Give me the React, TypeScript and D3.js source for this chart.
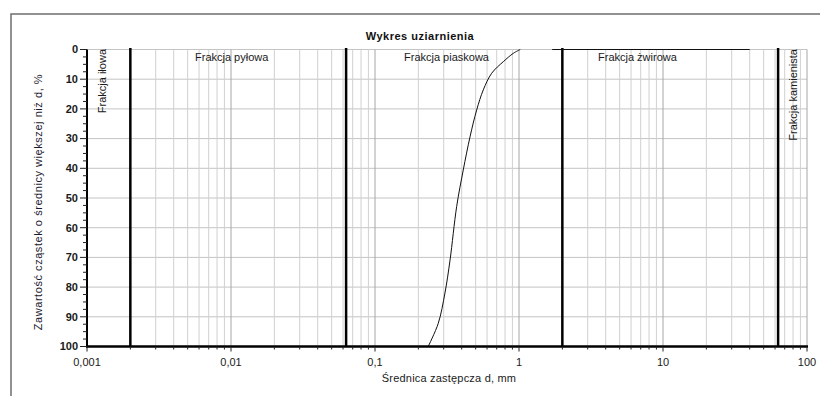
import React from "react";
import * as d3 from "d3";

// ---- data ----
const xTickValues = [0.001, 0.01, 0.1, 1, 10, 100];
const xTickLabels = ["0,001", "0,01", "0,1", "1", "10", "100"];
const yTickValues = [0, 10, 20, 30, 40, 50, 60, 70, 80, 90, 100];
const fractionBounds = [0.002, 0.063, 2, 63];
const curveDiameters = [0.234, 0.275, 0.306, 0.332, 0.369, 0.41, 0.457, 0.508, 0.565, 0.646, 0.778, 0.912, 1.02];
const curvePercents = [100, 92.2, 82, 70.9, 52.9, 40.6, 29.4, 20.4, 13.6, 8.0, 4.1, 1.3, 0];
const gravelDiameters = [1.7, 40];
const gravelPercents = [0, 0];

const W = 820;
const H = 396;
const FONT = "'Liberation Sans', Arial, sans-serif";

export default function App() {
  const x = d3.scaleLog().domain([0.001, 100]).range([87, 807]);
  const y = d3.scaleLinear().domain([0, 100]).range([49.5, 346.5]);
  const [y0, y1] = y.range();
  const [x0, x1] = x.range();

  const gridVals: number[] = [];
  for (let e = -3; e < 2; e++) {
    for (let m = 1; m <= 9; m++) gridVals.push(m * Math.pow(10, e));
  }
  gridVals.push(100);

  const yMinor: number[] = d3.range(0, 100.01, 2.5);

  const line = d3
    .line<number>()
    .x((d) => x(curveDiameters[d]))
    .y((d) => y(curvePercents[d]))
    .curve(d3.curveCatmullRom.alpha(0.5));
  const curvePath = line(curveDiameters.map((_, i) => i)) || "";

  const gravelPath =
    d3
      .line<number>()
      .x((d) => x(gravelDiameters[d]))
      .y((d) => y(gravelPercents[d]))(gravelDiameters.map((_, i) => i)) || "";

  const isMajor = (v: number) => Math.abs(Math.log10(v) - Math.round(Math.log10(v))) < 1e-9;

  return (
    <svg
      width={W}
      height={H}
      style={{ position: "absolute", left: 0, top: 0, background: "#fff" }}
      fontFamily={FONT}
    >
      <rect x={0} y={0} width={W} height={H} fill="#fff" />
      <path d={`M11,${H + 2} L11,14 L${W + 2},14`} fill="none" stroke="#6e6e6e" strokeWidth={1.5} />

      <text x={420} y={40} textAnchor="middle" fontSize={11} fontWeight="bold" fill="#111" letterSpacing={0.5}>
        Wykres uziarnienia
      </text>

      {yTickValues.map((v) => (
        <line key={"hg" + v} x1={x0} x2={x1} y1={y(v)} y2={y(v)} stroke="#c4c4c4" strokeWidth={1} />
      ))}
      {gridVals.map((v, i) => (
        <line
          key={"vg" + i}
          x1={x(v)}
          x2={x(v)}
          y1={y0}
          y2={y1}
          stroke={isMajor(v) ? "#a6a6a6" : "#d0d0d0"}
          strokeWidth={1}
        />
      ))}

      {fractionBounds.map((v) => (
        <line key={"fb" + v} x1={x(v)} x2={x(v)} y1={y0 - 1.5} y2={y1} stroke="#000" strokeWidth={2.5} />
      ))}

      <path d={curvePath} fill="none" stroke="#111" strokeWidth={1} />
      <path d={gravelPath} fill="none" stroke="#111" strokeWidth={1} />

      <line x1={x0} x2={x0} y1={y0} y2={y1 + 1} stroke="#000" strokeWidth={2} />
      <line x1={x0 - 1} x2={x1 + 1} y1={y1} y2={y1} stroke="#000" strokeWidth={2.5} />

      {yMinor.map((v) => {
        const major = Math.abs(v % 10) < 1e-9;
        return (
          <line
            key={"yt" + v}
            x1={major ? x0 - 7 : x0 - 4}
            x2={x0}
            y1={y(v)}
            y2={y(v)}
            stroke="#222"
            strokeWidth={1}
          />
        );
      })}
      {yTickValues.map((v) => (
        <text
          key={"yl" + v}
          x={78}
          y={y(v)}
          dy="0.35em"
          textAnchor="end"
          fontSize={11}
          fontWeight="bold"
          fill="#1a1a1a"
        >
          {v}
        </text>
      ))}

      {gridVals.map((v, i) => (
        <line
          key={"xt" + i}
          x1={x(v)}
          x2={x(v)}
          y1={y1}
          y2={y1 + (isMajor(v) ? 5 : 3)}
          stroke="#222"
          strokeWidth={1}
        />
      ))}
      {xTickValues.map((v, i) => (
        <text key={"xl" + v} x={x(v)} y={366} textAnchor="middle" fontSize={11} fill="#1a1a1a">
          {xTickLabels[i]}
        </text>
      ))}

      <text x={195} y={61} fontSize={11} fill="#1a1a1a">Frakcja pyłowa</text>
      <text x={404} y={61} fontSize={11} fill="#1a1a1a">Frakcja piaskowa</text>
      <text x={598} y={61} fontSize={11} fill="#1a1a1a">Frakcja żwirowa</text>
      <text transform="translate(106,49) rotate(-90)" textAnchor="end" fontSize={11} fill="#1a1a1a">
        Frakcja iłowa
      </text>
      <text transform="translate(797,49) rotate(-90)" textAnchor="end" fontSize={11} fill="#1a1a1a">
        Frakcja kamienista
      </text>

      <text
        transform="translate(42,202) rotate(-90)"
        textAnchor="middle"
        fontSize={11}
        fill="#1a1a2e"
        letterSpacing={0.55}
      >
        Zawartość cząstek o średnicy większej niż d, %
      </text>
      <text x={449} y={382} textAnchor="middle" fontSize={11} fill="#1a1a1a" letterSpacing={0.2}>
        Średnica zastępcza d, mm
      </text>
    </svg>
  );
}
